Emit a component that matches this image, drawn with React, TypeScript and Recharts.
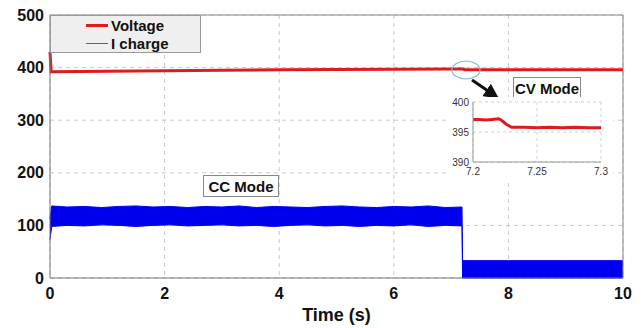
import {
  ComposedChart,
  LineChart,
  Line,
  Area,
  XAxis,
  YAxis,
  CartesianGrid,
  Legend,
  ReferenceLine,
} from "recharts";

// voltage trace (V) over time (s)
const voltTime = [0, 0.02, 0.5, 1, 2, 3, 4, 5, 6, 7, 7.2, 7.22, 7.23, 8, 9, 10];
const voltage = [430, 392, 392.5, 393, 394, 395, 396, 396.5, 397, 397.5, 397.3, 397.2, 396, 396, 396, 396];

// charging current envelope (A): min / max of the ripple band
const curTime = [
  0, 0.03, 0.3, 0.6, 0.9, 1.2, 1.5, 1.8, 2.1, 2.4, 2.7, 3.0, 3.3, 3.6, 3.9, 4.2, 4.5, 4.8,
  5.1, 5.4, 5.7, 6.0, 6.3, 6.6, 6.9, 7.19, 7.2, 8, 9, 10,
];
const curLow = [
  73, 98, 100, 99, 101, 100, 98, 100, 101, 99, 100, 101, 99, 100, 98, 100, 101, 99,
  100, 98, 100, 99, 101, 98, 100, 99, 0, 0, 0, 0,
];
const curHigh = [
  112, 137, 135, 136, 134, 136, 137, 135, 136, 134, 136, 135, 137, 134, 136, 135, 134, 136,
  137, 135, 134, 136, 135, 137, 134, 135, 33, 33, 33, 33,
];

// zoomed CV-mode detail
const insetTime = [7.2, 7.205, 7.21, 7.215, 7.22, 7.222, 7.226, 7.23, 7.24, 7.25, 7.26, 7.27, 7.28, 7.29, 7.3];
const insetVolt = [397.1, 397.1, 397.0, 397.1, 397.2, 397.0, 396.3, 395.8, 395.8, 395.7, 395.8, 395.7, 395.8, 395.7, 395.7];

const xTicks = [0, 2, 4, 6, 8, 10];
const yTicks = [0, 100, 200, 300, 400, 500];

const FONT = "Arial, 'Liberation Sans', sans-serif";
const RED = "#dd1c1c";
const BLUE = "#0000ee";

const legendItems = [
  { name: "Voltage", color: RED, thick: 3 },
  { name: "I charge", color: "#5555cc", thick: 1 },
];

type Row = { t: number; v?: number; i?: [number, number] };
const rows: Row[] = [];
voltTime.forEach((t, k) => rows.push({ t, v: voltage[k] }));
curTime.forEach((t, k) => rows.push({ t, i: [curLow[k], curHigh[k]] }));
rows.sort((a, b) => a.t - b.t);

const insetData = insetTime.map((t, k) => ({ t, v: insetVolt[k] }));

const tickStyle = { fill: "#111", fontSize: 16, fontWeight: 700, fontFamily: FONT };

function LegendBox() {
  return (
    <div
      style={{
        width: 149,
        height: 36,
        background: "#efefef",
        border: "1px solid #999",
        fontFamily: FONT,
        fontWeight: 700,
        fontSize: 15,
        color: "#111",
      }}
    >
      {legendItems.map((p) => (
        <div key={p.name} style={{ display: "flex", alignItems: "center", height: 18 }}>
          <div
            style={{
              marginLeft: 35,
              width: 22,
              height: p.thick,
              background: p.color,
              marginRight: 3,
            }}
          />
          {p.name}
        </div>
      ))}
    </div>
  );
}

const boxLabel = {
  position: "absolute" as const,
  background: "#fff",
  border: "1px solid #888",
  fontFamily: FONT,
  fontWeight: 700,
  fontSize: 15,
  color: "#111",
  display: "flex",
  alignItems: "center",
  justifyContent: "center",
  boxSizing: "border-box" as const,
};

const insetTick = { fill: "#333", fontSize: 10, fontFamily: FONT };

export default function App() {
  return (
    <div style={{ position: "absolute", left: 0, top: 0, width: 643, height: 328, background: "#fff" }}>
      <ComposedChart width={643} height={328} data={rows} margin={{ top: 15, right: 20, bottom: 20, left: 0 }}>
        <CartesianGrid stroke="#c8c8c8" strokeDasharray="4 4" />
        <XAxis
          dataKey="t"
          type="number"
          domain={[0, 10]}
          ticks={xTicks}
          height={30}
          tickSize={0}
          tickMargin={10}
          tick={tickStyle}
          axisLine={{ stroke: "#777" }}
          label={{
            value: "Time (s)",
            position: "bottom",
            offset: 0,
            style: { fill: "#111", fontSize: 18, fontWeight: 700, fontFamily: FONT },
          }}
        />
        <YAxis
          type="number"
          domain={[0, 500]}
          ticks={yTicks}
          width={50}
          tickSize={0}
          tickMargin={6}
          tick={tickStyle}
          axisLine={{ stroke: "#777" }}
        />
        <ReferenceLine y={500} stroke="#888" />
        <ReferenceLine x={10} stroke="#888" />
        <Line
          dataKey="v"
          name="Voltage"
          stroke={RED}
          strokeWidth={3}
          dot={false}
          connectNulls
          isAnimationActive={false}
        />
        <Area
          dataKey="i"
          name="I charge"
          stroke={BLUE}
          strokeWidth={1}
          fill={BLUE}
          fillOpacity={1}
          type="linear"
          connectNulls
          isAnimationActive={false}
        />
        <Legend
          layout="vertical"
          align="center"
          verticalAlign="middle"
          content={<LegendBox />}
          wrapperStyle={{ left: 50, top: 15, width: 151, height: 38 }}
        />
      </ComposedChart>

      <div style={{ ...boxLabel, left: 203, top: 175, width: 76, height: 22 }}>CC Mode</div>
      <div style={{ ...boxLabel, left: 513, top: 77, width: 68, height: 22 }}>CV Mode</div>

      <svg width={643} height={328} style={{ position: "absolute", left: 0, top: 0, pointerEvents: "none" }}>
        <defs>
          <marker id="ah" markerWidth="5" markerHeight="5" refX="3" refY="2.5" orient="auto">
            <path d="M0,0 L5,2.5 L0,5 z" fill="#111" />
          </marker>
        </defs>
        <ellipse cx={466} cy={70} rx={14} ry={9} fill="none" stroke="#7fbfd0" strokeWidth={1.2} />
        <line x1={472} y1={80} x2={494} y2={95} stroke="#111" strokeWidth={3} markerEnd="url(#ah)" />
      </svg>

      <div style={{ position: "absolute", left: 450, top: 97, width: 163, height: 82, background: "#fff" }}>
        <LineChart width={163} height={82} data={insetData} margin={{ top: 5, right: 12, bottom: 0, left: 0 }}>
          <CartesianGrid stroke="#d0d0d0" strokeDasharray="3 3" />
          <XAxis
            dataKey="t"
            type="number"
            domain={[7.2, 7.3]}
            ticks={[7.2, 7.25, 7.3]}
            height={17}
            tickSize={0}
            tickMargin={6}
            tick={insetTick}
            axisLine={{ stroke: "#999" }}
          />
          <YAxis
            type="number"
            domain={[390, 400]}
            ticks={[390, 395, 400]}
            width={23}
            tickSize={0}
            tickMargin={4}
            tick={insetTick}
            axisLine={{ stroke: "#999" }}
          />
          <Line dataKey="v" stroke={RED} strokeWidth={3} dot={false} isAnimationActive={false} />
        </LineChart>
      </div>
    </div>
  );
}
